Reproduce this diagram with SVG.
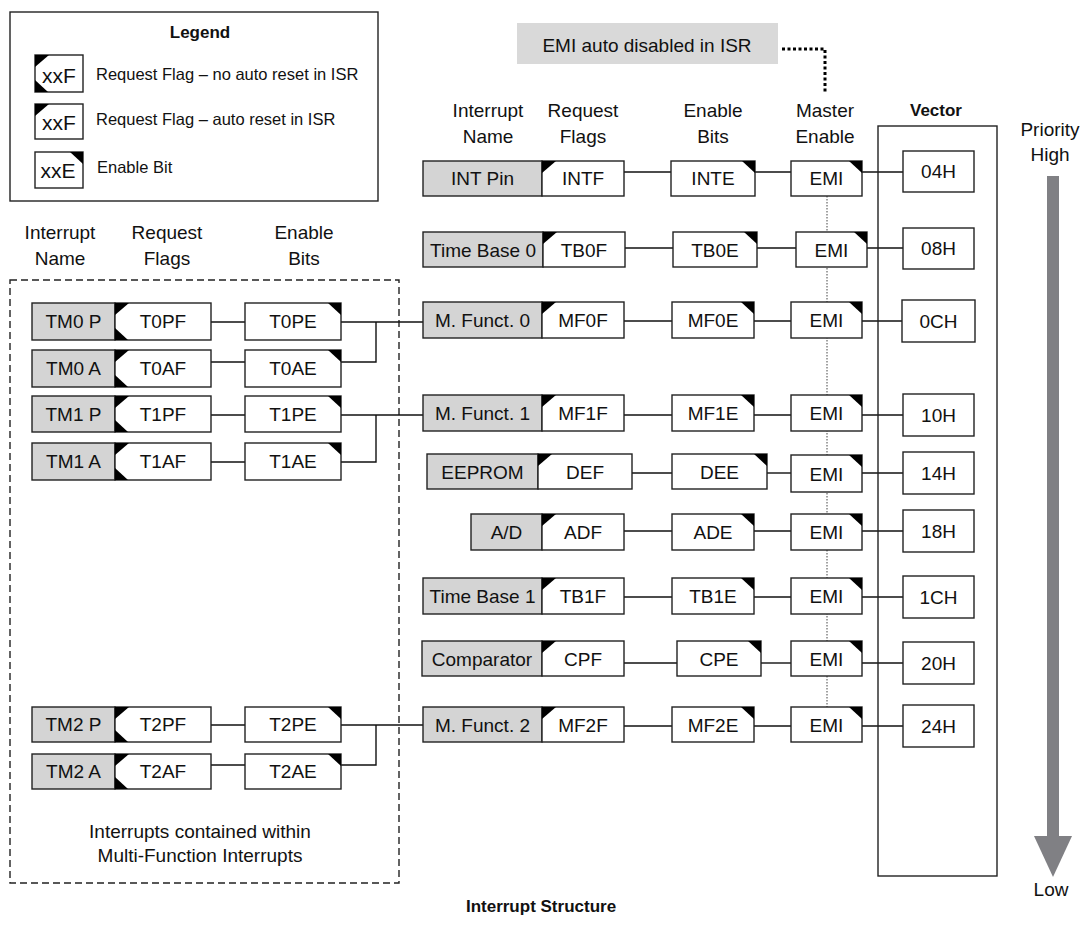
<svg xmlns="http://www.w3.org/2000/svg" xmlns:xlink="http://www.w3.org/1999/xlink" width="1083" height="929" viewBox="0 0 1083 929">
<style>
.t{font-family:"Liberation Sans",Arial,sans-serif;font-size:19px;fill:#111;text-anchor:middle}
.tl{font-family:"Liberation Sans",Arial,sans-serif;font-size:16.5px;fill:#111}
.b{font-weight:bold;font-size:17px}
.box{fill:#fff;stroke:#222;stroke-width:1.4}
.nm{fill:#d4d4d4;stroke:#222;stroke-width:1.4}
.ln{stroke:#111;stroke-width:1.4;fill:none}
.tri{fill:#000}
</style>
<defs>
<path id="ctl" d="M0,0 H14 L0,12 Z"/>
<path id="ctr" d="M0,0 H-13 L0,12 Z"/>
<path id="cbl" d="M0,0 H13 L0,-12 Z"/>
</defs>
<rect width="1083" height="929" fill="#fff"/>

<g id="legend">
<rect x="10" y="12" width="368" height="189" fill="#fff" stroke="#222" stroke-width="1.4"/>
<text class="t b" x="200" y="38">Legend</text>
<rect class="box" x="35" y="55" width="48" height="37"/>
<use href="#ctl" x="35" y="55" class="tri"/><use href="#cbl" x="35" y="92" class="tri"/>
<text class="t" style="font-size:21px" x="59" y="83">xxF</text>
<text class="tl" x="96" y="80">Request Flag – no auto reset in ISR</text>
<rect class="box" x="35" y="104" width="48" height="35"/>
<use href="#ctl" x="35" y="104" class="tri"/>
<text class="t" style="font-size:21px" x="59" y="130">xxF</text>
<text class="tl" x="96" y="125">Request Flag – auto reset in ISR</text>
<rect class="box" x="35" y="152" width="48" height="36"/>
<use href="#ctr" x="83" y="152" class="tri"/>
<text class="t" style="font-size:21px" x="58" y="178">xxE</text>
<text class="tl" x="97" y="173">Enable Bit</text>
</g>

<g id="note">
<rect x="517" y="23" width="261" height="41" fill="#d9d9d9"/>
<text class="t" x="647" y="52">EMI auto disabled in ISR</text>
</g>

<g id="headers">
<text class="t" x="60" y="239">Interrupt</text><text class="t" x="60" y="265">Name</text>
<text class="t" x="167" y="239">Request</text><text class="t" x="167" y="265">Flags</text>
<text class="t" x="304" y="239">Enable</text><text class="t" x="304" y="265">Bits</text>
<text class="t" x="488" y="117">Interrupt</text><text class="t" x="488" y="143">Name</text>
<text class="t" x="583" y="117">Request</text><text class="t" x="583" y="143">Flags</text>
<text class="t" x="713" y="117">Enable</text><text class="t" x="713" y="143">Bits</text>
<text class="t" x="825" y="117">Master</text><text class="t" x="825" y="143">Enable</text>
<text class="t b" x="936" y="116">Vector</text>
<text class="t" x="1050" y="136">Priority</text><text class="t" x="1050" y="161">High</text>
<text class="t" x="1051" y="896">Low</text>
<text class="t b" x="541" y="912">Interrupt Structure</text>
</g>

<g id="multi-function-area">
<rect x="10" y="280" width="389" height="603" fill="none" stroke="#222" stroke-width="1.4" stroke-dasharray="7 4"/>
<text class="t" x="200" y="838">Interrupts contained within</text>
<text class="t" x="200" y="862">Multi-Function Interrupts</text>
</g>

<g id="priority-arrow">
<rect x="1047" y="176" width="12" height="661" fill="#808084"/>
<polygon points="1034,836 1072,836 1053,877" fill="#808084"/>
</g>

<g id="connectors">
<polyline class="ln" points="782,49 825,49 825,93" style="stroke-width:3;stroke-dasharray:3 2.5;stroke:#000"/>
<line x1="827" y1="196" x2="827" y2="707" stroke="#444" stroke-width="1" stroke-dasharray="1.5 1.5"/>
<!-- left panel -->
<line class="ln" x1="211" y1="322" x2="245" y2="322"/>
<line class="ln" x1="211" y1="362" x2="245" y2="362"/>
<line class="ln" x1="211" y1="415" x2="245" y2="415"/>
<line class="ln" x1="211" y1="462" x2="245" y2="462"/>
<line class="ln" x1="211" y1="725" x2="245" y2="725"/>
<line class="ln" x1="211" y1="765" x2="245" y2="765"/>
<polyline class="ln" points="341,322 423,322"/>
<polyline class="ln" points="341,362 376,362 376,322"/>
<polyline class="ln" points="341,415 423,415"/>
<polyline class="ln" points="341,462 376,462 376,415"/>
<polyline class="ln" points="341,725 423,725"/>
<polyline class="ln" points="341,765 376,765 376,725"/>
<!-- right rows -->
<line class="ln" x1="624" y1="172" x2="671" y2="172"/><line class="ln" x1="755" y1="172" x2="791" y2="172"/><line class="ln" x1="862" y1="172" x2="903" y2="172"/>
<line class="ln" x1="625" y1="248" x2="673" y2="248"/><line class="ln" x1="757" y1="248" x2="796" y2="248"/><line class="ln" x1="867" y1="248" x2="903" y2="248"/>
<line class="ln" x1="624" y1="321" x2="672" y2="321"/><line class="ln" x1="754" y1="321" x2="791" y2="321"/><line class="ln" x1="862" y1="321" x2="903" y2="321"/>
<line class="ln" x1="624" y1="415" x2="672" y2="415"/><line class="ln" x1="754" y1="415" x2="791" y2="415"/><line class="ln" x1="862" y1="415" x2="903" y2="415"/>
<line class="ln" x1="632" y1="473" x2="672" y2="473"/><line class="ln" x1="767" y1="473" x2="791" y2="473"/><line class="ln" x1="862" y1="473" x2="903" y2="473"/>
<line class="ln" x1="624" y1="531" x2="672" y2="531"/><line class="ln" x1="754" y1="531" x2="791" y2="531"/><line class="ln" x1="862" y1="531" x2="903" y2="531"/>
<line class="ln" x1="624" y1="597" x2="672" y2="597"/><line class="ln" x1="754" y1="597" x2="791" y2="597"/><line class="ln" x1="862" y1="597" x2="903" y2="597"/>
<line class="ln" x1="624" y1="663" x2="677" y2="663"/><line class="ln" x1="761" y1="663" x2="791" y2="663"/><line class="ln" x1="862" y1="663" x2="903" y2="663"/>
<line class="ln" x1="624" y1="726" x2="672" y2="726"/><line class="ln" x1="754" y1="726" x2="791" y2="726"/><line class="ln" x1="862" y1="726" x2="903" y2="726"/>
</g>

<g id="vector">
<rect x="878" y="126" width="119" height="750" fill="none" stroke="#222" stroke-width="1.4"/>
</g>
<g id="v04"><rect class="box" x="903" y="151" width="71" height="41"/><text class="t" x="938.5" y="178">04H</text></g>
<g id="v08"><rect class="box" x="903" y="228" width="71" height="41"/><text class="t" x="938.5" y="255">08H</text></g>
<g id="v0C"><rect class="box" x="902" y="300" width="73" height="42"/><text class="t" x="938.5" y="328">0CH</text></g>
<g id="v10"><rect class="box" x="903" y="394" width="71" height="42"/><text class="t" x="938.5" y="422">10H</text></g>
<g id="v14"><rect class="box" x="903" y="452" width="71" height="42"/><text class="t" x="938.5" y="480">14H</text></g>
<g id="v18"><rect class="box" x="903" y="510" width="71" height="42"/><text class="t" x="938.5" y="538">18H</text></g>
<g id="v1C"><rect class="box" x="903" y="576" width="71" height="42"/><text class="t" x="938.5" y="604">1CH</text></g>
<g id="v20"><rect class="box" x="903" y="642" width="71" height="42"/><text class="t" x="938.5" y="670">20H</text></g>
<g id="v24"><rect class="box" x="903" y="705" width="71" height="42"/><text class="t" x="938.5" y="733">24H</text></g>

<!-- left panel nodes -->
<g id="tm0p"><rect class="nm" x="32" y="303" width="83" height="37"/><text class="t" x="73.5" y="328">TM0 P</text></g>
<g id="t0pf"><rect class="box" x="115" y="303" width="96" height="37"/><use href="#ctl" x="115" y="303" class="tri"/><use href="#cbl" x="115" y="340" class="tri"/><text class="t" x="163" y="328">T0PF</text></g>
<g id="t0pe"><rect class="box" x="245" y="303" width="96" height="37"/><use href="#ctr" x="341" y="303" class="tri"/><text class="t" x="293" y="328">T0PE</text></g>

<g id="tm0a"><rect class="nm" x="32" y="350" width="83" height="37"/><text class="t" x="73.5" y="375">TM0 A</text></g>
<g id="t0af"><rect class="box" x="115" y="350" width="96" height="37"/><use href="#ctl" x="115" y="350" class="tri"/><use href="#cbl" x="115" y="387" class="tri"/><text class="t" x="163" y="375">T0AF</text></g>
<g id="t0ae"><rect class="box" x="245" y="350" width="96" height="37"/><use href="#ctr" x="341" y="350" class="tri"/><text class="t" x="293" y="375">T0AE</text></g>

<g id="tm1p"><rect class="nm" x="32" y="396" width="83" height="36"/><text class="t" x="73.5" y="421">TM1 P</text></g>
<g id="t1pf"><rect class="box" x="115" y="396" width="96" height="36"/><use href="#ctl" x="115" y="396" class="tri"/><use href="#cbl" x="115" y="432" class="tri"/><text class="t" x="163" y="421">T1PF</text></g>
<g id="t1pe"><rect class="box" x="245" y="396" width="96" height="36"/><use href="#ctr" x="341" y="396" class="tri"/><text class="t" x="293" y="421">T1PE</text></g>

<g id="tm1a"><rect class="nm" x="32" y="443" width="83" height="37"/><text class="t" x="73.5" y="468">TM1 A</text></g>
<g id="t1af"><rect class="box" x="115" y="443" width="96" height="37"/><use href="#ctl" x="115" y="443" class="tri"/><use href="#cbl" x="115" y="480" class="tri"/><text class="t" x="163" y="468">T1AF</text></g>
<g id="t1ae"><rect class="box" x="245" y="443" width="96" height="37"/><use href="#ctr" x="341" y="443" class="tri"/><text class="t" x="293" y="468">T1AE</text></g>

<g id="tm2p"><rect class="nm" x="32" y="707" width="83" height="35"/><text class="t" x="73.5" y="731">TM2 P</text></g>
<g id="t2pf"><rect class="box" x="115" y="707" width="96" height="35"/><use href="#ctl" x="115" y="707" class="tri"/><use href="#cbl" x="115" y="742" class="tri"/><text class="t" x="163" y="731">T2PF</text></g>
<g id="t2pe"><rect class="box" x="245" y="707" width="96" height="35"/><use href="#ctr" x="341" y="707" class="tri"/><text class="t" x="293" y="731">T2PE</text></g>

<g id="tm2a"><rect class="nm" x="32" y="754" width="83" height="35"/><text class="t" x="73.5" y="778">TM2 A</text></g>
<g id="t2af"><rect class="box" x="115" y="754" width="96" height="35"/><use href="#ctl" x="115" y="754" class="tri"/><use href="#cbl" x="115" y="789" class="tri"/><text class="t" x="163" y="778">T2AF</text></g>
<g id="t2ae"><rect class="box" x="245" y="754" width="96" height="35"/><use href="#ctr" x="341" y="754" class="tri"/><text class="t" x="293" y="778">T2AE</text></g>

<!-- right rows -->
<g id="int-pin"><rect class="nm" x="423" y="161" width="119" height="35"/><text class="t" x="482.5" y="185">INT Pin</text></g>
<g id="intf"><rect class="box" x="542" y="161" width="82" height="35"/><use href="#ctl" x="542" y="161" class="tri"/><text class="t" x="583" y="185">INTF</text></g>
<g id="inte"><rect class="box" x="671" y="161" width="84" height="35"/><use href="#ctr" x="755" y="161" class="tri"/><text class="t" x="713" y="185">INTE</text></g>
<g id="emi1"><rect class="box" x="791" y="161" width="71" height="35"/><use href="#ctr" x="862" y="161" class="tri"/><text class="t" x="826.5" y="185">EMI</text></g>

<g id="time-base-0"><rect class="nm" x="423" y="232" width="120" height="35"/><text class="t" x="483" y="256.5">Time Base 0</text></g>
<g id="tb0f"><rect class="box" x="543" y="232" width="82" height="35"/><use href="#ctl" x="543" y="232" class="tri"/><text class="t" x="584" y="256.5">TB0F</text></g>
<g id="tb0e"><rect class="box" x="673" y="232" width="84" height="35"/><use href="#ctr" x="757" y="232" class="tri"/><text class="t" x="715" y="256.5">TB0E</text></g>
<g id="emi2"><rect class="box" x="796" y="232" width="71" height="35"/><use href="#ctr" x="867" y="232" class="tri"/><text class="t" x="831.5" y="256.5">EMI</text></g>

<g id="m-funct-0"><rect class="nm" x="423" y="302" width="119" height="36"/><text class="t" x="482.5" y="327">M. Funct. 0</text></g>
<g id="mf0f"><rect class="box" x="542" y="302" width="82" height="36"/><use href="#ctl" x="542" y="302" class="tri"/><text class="t" x="583" y="327">MF0F</text></g>
<g id="mf0e"><rect class="box" x="672" y="302" width="82" height="36"/><use href="#ctr" x="754" y="302" class="tri"/><text class="t" x="713" y="327">MF0E</text></g>
<g id="emi3"><rect class="box" x="791" y="302" width="71" height="36"/><use href="#ctr" x="862" y="302" class="tri"/><text class="t" x="826.5" y="327">EMI</text></g>

<g id="m-funct-1"><rect class="nm" x="423" y="395" width="119" height="36"/><text class="t" x="482.5" y="420">M. Funct. 1</text></g>
<g id="mf1f"><rect class="box" x="542" y="395" width="82" height="36"/><use href="#ctl" x="542" y="395" class="tri"/><text class="t" x="583" y="420">MF1F</text></g>
<g id="mf1e"><rect class="box" x="672" y="395" width="82" height="36"/><use href="#ctr" x="754" y="395" class="tri"/><text class="t" x="713" y="420">MF1E</text></g>
<g id="emi4"><rect class="box" x="791" y="395" width="71" height="36"/><use href="#ctr" x="862" y="395" class="tri"/><text class="t" x="826.5" y="420">EMI</text></g>

<g id="eeprom"><rect class="nm" x="427" y="454" width="111" height="35"/><text class="t" x="482.5" y="478.5">EEPROM</text></g>
<g id="def"><rect class="box" x="538" y="454" width="94" height="35"/><use href="#ctl" x="538" y="454" class="tri"/><text class="t" x="585" y="478.5">DEF</text></g>
<g id="dee"><rect class="box" x="672" y="454" width="95" height="35"/><use href="#ctr" x="767" y="454" class="tri"/><text class="t" x="719.5" y="478.5">DEE</text></g>
<g id="emi5"><rect class="box" x="791" y="455" width="71" height="37"/><use href="#ctr" x="862" y="455" class="tri"/><text class="t" x="826.5" y="480.5">EMI</text></g>

<g id="a-d"><rect class="nm" x="471" y="514" width="71" height="36"/><text class="t" x="506.5" y="539">A/D</text></g>
<g id="adf"><rect class="box" x="542" y="514" width="82" height="36"/><use href="#ctl" x="542" y="514" class="tri"/><text class="t" x="583" y="539">ADF</text></g>
<g id="ade"><rect class="box" x="672" y="514" width="82" height="36"/><use href="#ctr" x="754" y="514" class="tri"/><text class="t" x="713" y="539">ADE</text></g>
<g id="emi6"><rect class="box" x="791" y="514" width="71" height="36"/><use href="#ctr" x="862" y="514" class="tri"/><text class="t" x="826.5" y="539">EMI</text></g>

<g id="time-base-1"><rect class="nm" x="423" y="578" width="119" height="36"/><text class="t" x="482.5" y="603">Time Base 1</text></g>
<g id="tb1f"><rect class="box" x="542" y="578" width="82" height="36"/><use href="#ctl" x="542" y="578" class="tri"/><text class="t" x="583" y="603">TB1F</text></g>
<g id="tb1e"><rect class="box" x="672" y="578" width="82" height="36"/><use href="#ctr" x="754" y="578" class="tri"/><text class="t" x="713" y="603">TB1E</text></g>
<g id="emi7"><rect class="box" x="791" y="578" width="71" height="36"/><use href="#ctr" x="862" y="578" class="tri"/><text class="t" x="826.5" y="603">EMI</text></g>

<g id="comparator"><rect class="nm" x="422" y="641" width="120" height="35"/><text class="t" x="482" y="665.5">Comparator</text></g>
<g id="cpf"><rect class="box" x="542" y="641" width="82" height="35"/><use href="#ctl" x="542" y="641" class="tri"/><text class="t" x="583" y="665.5">CPF</text></g>
<g id="cpe"><rect class="box" x="677" y="641" width="84" height="35"/><use href="#ctr" x="761" y="641" class="tri"/><text class="t" x="719" y="665.5">CPE</text></g>
<g id="emi8"><rect class="box" x="791" y="641" width="71" height="35"/><use href="#ctr" x="862" y="641" class="tri"/><text class="t" x="826.5" y="665.5">EMI</text></g>

<g id="m-funct-2"><rect class="nm" x="423" y="707" width="119" height="35"/><text class="t" x="482.5" y="731.5">M. Funct. 2</text></g>
<g id="mf2f"><rect class="box" x="542" y="707" width="82" height="35"/><use href="#ctl" x="542" y="707" class="tri"/><text class="t" x="583" y="731.5">MF2F</text></g>
<g id="mf2e"><rect class="box" x="672" y="707" width="82" height="35"/><use href="#ctr" x="754" y="707" class="tri"/><text class="t" x="713" y="731.5">MF2E</text></g>
<g id="emi9"><rect class="box" x="791" y="707" width="71" height="35"/><use href="#ctr" x="862" y="707" class="tri"/><text class="t" x="826.5" y="731.5">EMI</text></g>
</svg>
